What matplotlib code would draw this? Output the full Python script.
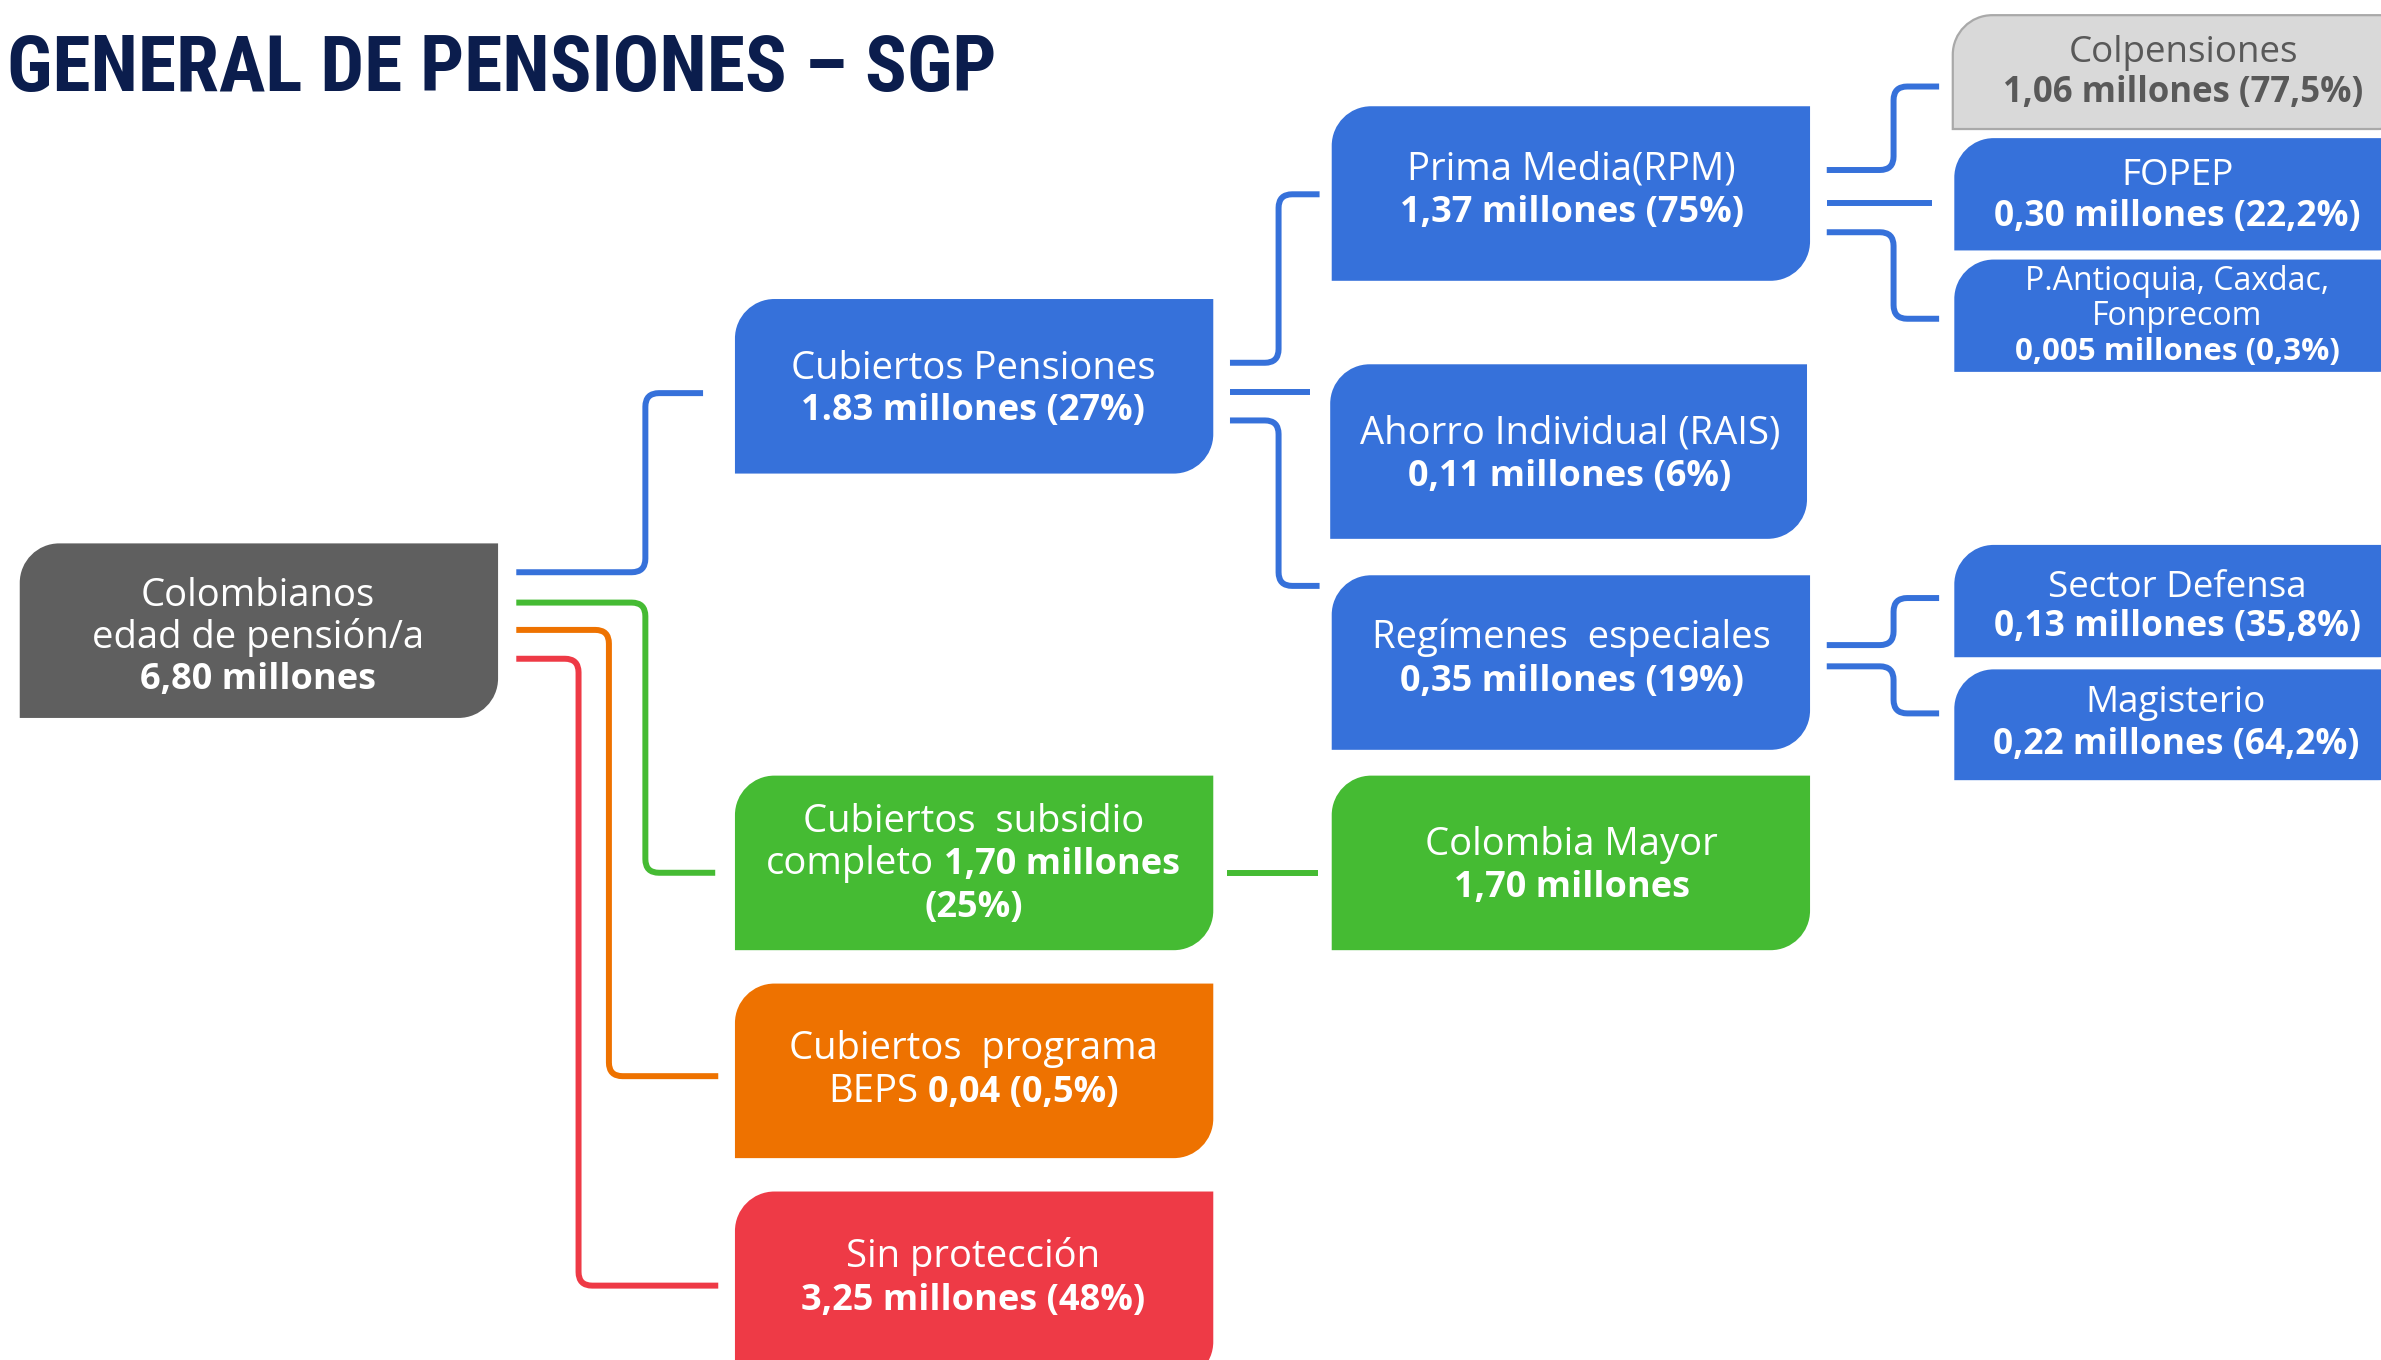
import matplotlib.pyplot as plt
from matplotlib.path import Path
from matplotlib.patches import PathPatch
from matplotlib import font_manager

plt.rcParams['font.family'] = ['Open Sans', 'DejaVu Sans']

# ---- data -------------------------------------------------------------
title = "GENERAL DE PENSIONES – SGP"

root_name = ["Colombianos", "edad de pensión/a"]
root_value = "6,80"

lvl1_names = ["Cubiertos Pensiones", "Cubiertos  subsidio", "Cubiertos  programa", "Sin protección"]
lvl1_values = ["1.83", "1,70", "0,04", "3,25"]
lvl1_shares = ["27%", "25%", "0,5%", "48%"]

lvl2_names = ["Prima Media(RPM)", "Ahorro Individual (RAIS)", "Regímenes  especiales", "Colombia Mayor"]
lvl2_values = ["1,37", "0,11", "0,35", "1,70"]
lvl2_shares = ["75%", "6%", "19%", None]

rpm_names = ["Colpensiones", "FOPEP", "P.Antioquia, Caxdac,\nFonprecom"]
rpm_values = ["1,06", "0,30", "0,005"]
rpm_shares = ["77,5%", "22,2%", "0,3%"]

esp_names = ["Sector Defensa", "Magisterio"]
esp_values = ["0,13", "0,22"]
esp_shares = ["35,8%", "64,2%"]

BLUE = '#3671DA'
GREEN = '#45BB33'
ORANGE = '#EE7200'
RED = '#EE3A46'
DARK = '#5F5F5F'
LIGHT = '#D9D9D9'
NAVY = '#0B1D4D'

fig = plt.figure(figsize=(23.81, 13.60), dpi=100)
ax = fig.add_axes([0, 0, 1, 1])
ax.set_xlim(0, 1568)
ax.set_ylim(896, 0)
ax.axis('off')
R = fig.canvas.get_renderer()
PX = 1568 / 2381


def box(x0, y0, x1, y1, color, r=26, edge=None):
    # rounded top-left and bottom-right corners only
    k = 0.5523 * r
    verts = [(x0, y0 + r), (x0, y0 + r - k), (x0 + r - k, y0), (x0 + r, y0),
             (x1, y0), (x1, y1 - r), (x1, y1 - r + k), (x1 - r + k, y1), (x1 - r, y1),
             (x0, y1), (x0, y0 + r)]
    codes = [Path.MOVETO, Path.CURVE4, Path.CURVE4, Path.CURVE4,
             Path.LINETO, Path.LINETO, Path.CURVE4, Path.CURVE4, Path.CURVE4,
             Path.LINETO, Path.CLOSEPOLY]
    ax.add_patch(PathPatch(Path(verts, codes), fc=color, ec=edge or 'none',
                           lw=1.6 if edge else 0, zorder=2))


def elbow(x0, y0, xm, y1, x1, color, r=9):
    if y0 == y1:
        verts = [(x0, y0), (x1, y1)]
        codes = [Path.MOVETO, Path.LINETO]
    else:
        s = 1 if y1 > y0 else -1
        verts = [(x0, y0), (xm - r, y0), (xm, y0), (xm, y0 + s * r),
                 (xm, y1 - s * r), (xm, y1), (xm + r, y1), (x1, y1)]
        codes = [Path.MOVETO, Path.LINETO, Path.CURVE3, Path.CURVE3,
                 Path.LINETO, Path.CURVE3, Path.CURVE3, Path.LINETO]
    ax.add_patch(PathPatch(Path(verts, codes), fc='none', ec=color, lw=4.3,
                           capstyle='butt', joinstyle='round', zorder=1))


def width_of(s, size, bold):
    t = ax.text(0, 0, s, fontsize=size, fontweight='bold' if bold else 'normal')
    w = t.get_window_extent(R).width * PX
    t.remove()
    return w


def line(xc, y, parts, size=27.5, color='white', bsize=None):
    # parts: list of (text, bold); drawn side by side, centred on xc
    if isinstance(parts, str):
        parts = [(parts, False)]
    bsize = bsize or size - 1.5
    sp = width_of("a a", size, False) - width_of("aa", size, False)
    ts, ws = [], []
    for s, b in parts:
        t = ax.text(0, y, s, fontsize=bsize if b else size,
                    fontweight='bold' if b else 'normal',
                    color=color, ha='left', va='baseline', zorder=3)
        ts.append(t)
        ws.append(t.get_window_extent(R).width * PX)
    total = sum(ws) + sp * (len(ws) - 1)
    x = xc - total / 2
    for t, w in zip(ts, ws):
        t.set_x(x)
        x += w + sp


def mill(v, s=None):
    return f"{v} millones ({s})" if s else f"{v} millones"


# ---- title ------------------------------------------------------------
installed = {f.name for f in font_manager.fontManager.ttflist}
tfam = [f for f in ['Roboto Condensed', 'Liberation Sans Narrow', 'Roboto', 'Liberation Sans']
        if f in installed] + ['DejaVu Sans']
tt = ax.text(656, 60, title, ha='right', va='baseline', fontsize=61, fontweight='bold',
             family=tfam, color=NAVY)
tw = tt.get_window_extent(R).width * PX
if tw > 652:
    tt.set_fontsize(61 * 652 / tw)

# ---- root -------------------------------------------------------------
box(13, 358, 328, 473, DARK)
line(170, 399, root_name[0])
line(170, 427, root_name[1])
line(170, 454, [(mill(root_value), True)])

elbow(340, 377, 425, 259, 463, BLUE)
elbow(340, 397, 425, 575, 471, GREEN)
elbow(340, 415, 401, 709, 473, ORANGE)
elbow(340, 434, 381, 847, 473, RED)

# ---- level 1 ----------------------------------------------------------
x1c = 641
box(484, 197, 799, 312, BLUE)
line(x1c, 250, lvl1_names[0])
line(x1c, 277, [(mill(lvl1_values[0], lvl1_shares[0]), True)])

box(484, 511, 799, 626, GREEN)
line(x1c, 548, lvl1_names[1])
line(x1c, 576, [("completo", False), (mill(lvl1_values[1]), True)])
line(x1c, 604, [(f"({lvl1_shares[1]})", True)])

box(484, 648, 799, 763, ORANGE)
line(x1c, 698, lvl1_names[2])
line(x1c, 726, [("BEPS", False), (f"{lvl1_values[2]} ({lvl1_shares[2]})", True)])

box(484, 785, 799, 910, RED)
line(x1c, 835, lvl1_names[3])
line(x1c, 863, [(mill(lvl1_values[3], lvl1_shares[3]), True)])

elbow(810, 239, 842, 128, 869, BLUE)
elbow(810, 258, 842, 258, 863, BLUE)
elbow(810, 277, 842, 386, 869, BLUE)
elbow(808, 575, 838, 575, 868, GREEN)

# ---- level 2 ----------------------------------------------------------
x2c = 1035
box(877, 70, 1192, 185, BLUE)
line(x2c, 118, lvl2_names[0])
line(x2c, 146, [(mill(lvl2_values[0], lvl2_shares[0]), True)])

box(876, 240, 1190, 355, BLUE)
line(1034, 292, lvl2_names[1])
line(1034, 320, [(mill(lvl2_values[1], lvl2_shares[1]), True)])

box(877, 379, 1192, 494, BLUE)
line(x2c, 427, lvl2_names[2])
line(x2c, 455, [(mill(lvl2_values[2], lvl2_shares[2]), True)])

box(877, 511, 1192, 626, GREEN)
line(x2c, 563, lvl2_names[3])
line(x2c, 591, [(mill(lvl2_values[3]), True)])

elbow(1203, 112, 1247, 57, 1277, BLUE)
elbow(1203, 134, 1247, 134, 1272, BLUE)
elbow(1203, 153, 1247, 210, 1277, BLUE)

elbow(1203, 425, 1247, 394, 1277, BLUE)
elbow(1203, 439, 1247, 470, 1277, BLUE)

# ---- level 3 ----------------------------------------------------------
x3c = 1434
box(1286, 10, 1592, 85, LIGHT, edge='#A9A9A9')
line(1438, 41, rpm_names[0], size=26.5, bsize=25, color='#595959')
line(1438, 67, [(mill(rpm_values[0], rpm_shares[0]), True)], size=26.5, bsize=25, color='#595959')

box(1287, 91, 1592, 165, BLUE)
line(x3c, 122, rpm_names[1], size=26.5)
line(x3c, 149, [(mill(rpm_values[1], rpm_shares[1]), True)], size=26.5, bsize=25.5)

box(1287, 171, 1592, 245, BLUE)
a, b = rpm_names[2].split("\n")
line(x3c, 191, a, size=23)
line(x3c, 214, b, size=23)
line(x3c, 237, [(mill(rpm_values[2], rpm_shares[2]), True)], size=22.5, bsize=22.5)

box(1287, 359, 1592, 433, BLUE)
line(x3c, 393, esp_names[0], size=26.5)
line(x3c, 419, [(mill(esp_values[0], esp_shares[0]), True)], size=26.5, bsize=25.5)

box(1287, 441, 1592, 514, BLUE)
line(1433, 469, esp_names[1], size=26.5)
line(1433, 497, [(mill(esp_values[1], esp_shares[1]), True)], size=26.5, bsize=25.5)

fig.savefig("out.png", dpi=100, facecolor='white')
